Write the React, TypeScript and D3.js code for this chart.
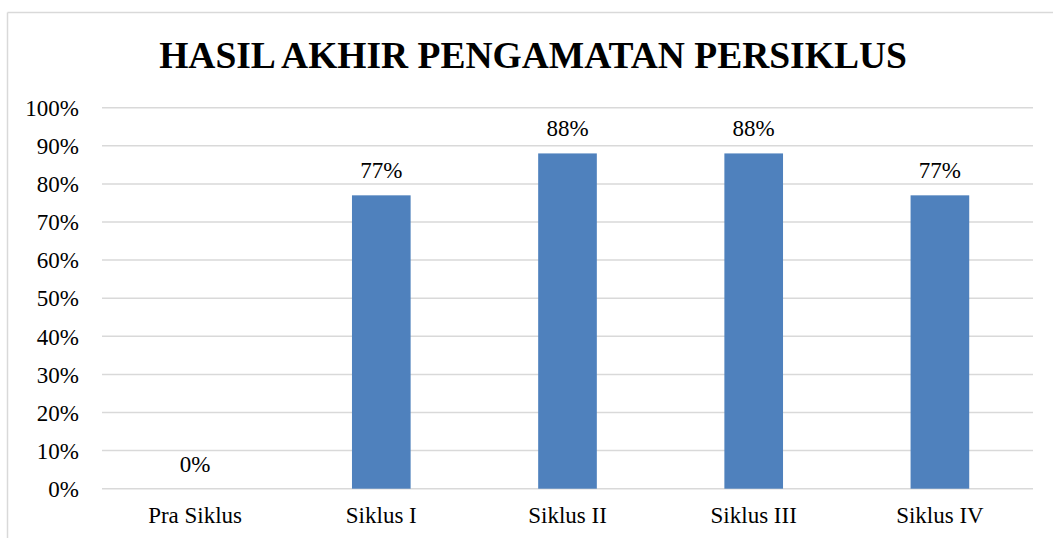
import React from "react";
import * as d3 from "d3";

const categories = ["Pra Siklus", "Siklus I", "Siklus II", "Siklus III", "Siklus IV"];
const values = [0, 77, 88, 88, 77];
const yTicks = [0, 10, 20, 30, 40, 50, 60, 70, 80, 90, 100];
const title = "HASIL AKHIR PENGAMATAN PERSIKLUS";

const W = 1053;
const H = 538;
const plot = { left: 102, right: 1033, top: 107.7, bottom: 488.7 };
const FONT = "'Liberation Serif', 'Times New Roman', serif";

export default function App() {
  const x = d3.scaleBand<string>().domain(categories).range([plot.left, plot.right]).paddingInner(0).paddingOuter(0);
  const y = d3.scaleLinear().domain([0, 100]).range([plot.bottom, plot.top]);
  const bw = x.bandwidth() * 0.315;

  return (
    <>
      <style>{`body{margin:0}`}</style>
      <svg width={W} height={H} style={{ display: "block" }}>
        <rect x={0} y={0} width={W} height={H} fill="#fff" />
        <line x1={7.5} x2={7.5} y1={12.5} y2={H + 5} stroke="#d9d9d9" strokeWidth={1.5} />
        <line x1={7.5} x2={W + 5} y1={12.5} y2={12.5} stroke="#d9d9d9" strokeWidth={1.5} />
        <text x={533} y={68} textAnchor="middle" fontFamily={FONT} fontWeight="bold" fontSize={37.5} fill="#000">
          {title}
        </text>
        {yTicks.map((t) => (
          <g key={t}>
            <line x1={plot.left} x2={plot.right} y1={y(t)} y2={y(t)} stroke="#d9d9d9" strokeWidth={1.5} />
            <text x={79} y={y(t)} dy="0.36em" textAnchor="end" fontFamily={FONT} fontSize={23} fill="#000">
              {t}%
            </text>
          </g>
        ))}
        {categories.map((c, i) => {
          const cx = (x(c) as number) + x.bandwidth() / 2;
          return (
            <g key={c}>
              {values[i] > 0 && (
                <rect x={cx - bw / 2} y={y(values[i])} width={bw} height={y(0) - y(values[i])} fill="#4f81bd" />
              )}
              <text x={cx} y={y(values[i]) - 17} textAnchor="middle" fontFamily={FONT} fontSize={23} fill="#000">
                {values[i]}%
              </text>
              <text x={cx} y={523} textAnchor="middle" fontFamily={FONT} fontSize={23} fill="#000">
                {c}
              </text>
            </g>
          );
        })}
      </svg>
    </>
  );
}
